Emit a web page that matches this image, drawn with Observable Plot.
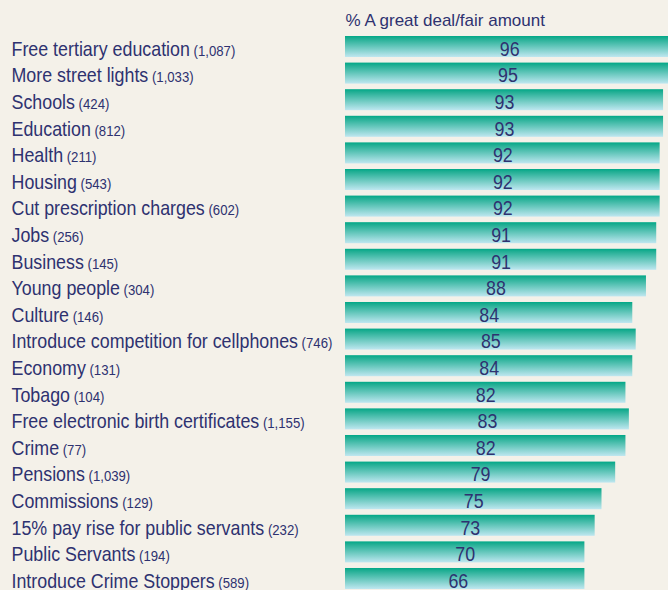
<!DOCTYPE html>
<html>
<head>
<meta charset="utf-8">
<script src="https://cdn.jsdelivr.net/npm/d3@7"></script>
<script src="https://cdn.jsdelivr.net/npm/@observablehq/plot@0.6"></script>
<style>
  html, body { margin: 0; padding: 0; background: #f4f1e9; overflow: hidden; }
  #chart { width: 668px; height: 590px; overflow: hidden; }
</style>
</head>
<body>
<div id="chart"></div>
<script>
const categories = [
  "Free tertiary education", "More street lights", "Schools", "Education", "Health",
  "Housing", "Cut prescription charges", "Jobs", "Business", "Young people", "Culture",
  "Introduce competition for cellphones", "Economy", "Tobago",
  "Free electronic birth certificates", "Crime", "Pensions", "Commissions",
  "15% pay rise for public servants", "Public Servants", "Introduce Crime Stoppers"
];
const bases = ["1,087", "1,033", "424", "812", "211", "543", "602", "256", "145", "304", "146",
  "746", "131", "104", "1,155", "77", "1,039", "129", "232", "194", "589"];
const values = [96, 95, 93, 93, 92, 92, 92, 91, 91, 88, 84, 85, 84, 82, 83, 82, 79, 75, 73, 70, 66];
// bar lengths as drawn in the picture (last bar is drawn to the same length as the 70 bar)
const barLengths = [96, 95, 93, 93, 92, 92, 92, 91, 91, 88, 84, 85, 84, 82, 83, 82, 79, 75, 73, 70, 70];
const header = "% A great deal/fair amount";

const data = categories.map((c, i) => ({name: c, base: bases[i], value: values[i], bar: barLengths[i]}));

const navy = "#2e3270";
const font = "'Liberation Sans', Arial, sans-serif";

const chart = Plot.plot({
  width: 668,
  height: 590,
  marginTop: 36,
  marginBottom: 1,
  marginLeft: 345,
  marginRight: 0,
  style: {background: "#f4f1e9", fontFamily: font, overflow: "hidden"},
  x: {domain: [0, 100], range: [345, 687], axis: null},
  y: {domain: categories, paddingInner: 0.21, paddingOuter: 0, round: false, axis: null},
  marks: [
    Plot.barX(data, {x: "bar", y: "name", fill: "url(#barGrad)"}),
    Plot.text(data, {
      x: d => d.value / 2, y: "name", text: d => String(d.value),
      fill: navy, fontSize: 21, dy: 2, textAnchor: "middle", fontFamily: font
    }),
    Plot.text(data, {
      y: "name", text: "name", frameAnchor: "left", dx: -334, dy: 2,
      textAnchor: "start", fill: navy, fontSize: 21, fontFamily: font
    }),
    Plot.text([header], {
      text: d => d, frameAnchor: "top-left", dy: -16, lineAnchor: "middle",
      textAnchor: "start", fill: navy, fontSize: 17, fontFamily: font
    })
  ]
});

// gradient definition for the bars
const ns = "http://www.w3.org/2000/svg";
const defs = document.createElementNS(ns, "defs");
defs.innerHTML = `<linearGradient id="barGrad" x1="0" y1="0" x2="0" y2="1">
  <stop offset="0" stop-color="#00a887"/>
  <stop offset="0.12" stop-color="#1fae93"/>
  <stop offset="1" stop-color="#bfe7f0"/>
</linearGradient>`;
chart.insertBefore(defs, chart.firstChild);

const textGroups = chart.querySelectorAll("g[aria-label='text']");
// condensed look: squeeze the value labels and category labels horizontally
[textGroups[0], textGroups[1]].forEach(g => {
  g.querySelectorAll("text").forEach(t => {
    const tr = t.getAttribute("transform") || "";
    t.setAttribute("transform", tr + " scale(0.85,1)");
  });
});
// append the smaller base counts after each category label
textGroups[1].querySelectorAll("text").forEach((t, i) => {
  const ts = document.createElementNS(ns, "tspan");
  ts.setAttribute("font-size", 15.5);
  ts.textContent = " (" + data[i].base + ")";
  t.appendChild(ts);
});

document.getElementById("chart").appendChild(chart);
</script>
</body>
</html>
